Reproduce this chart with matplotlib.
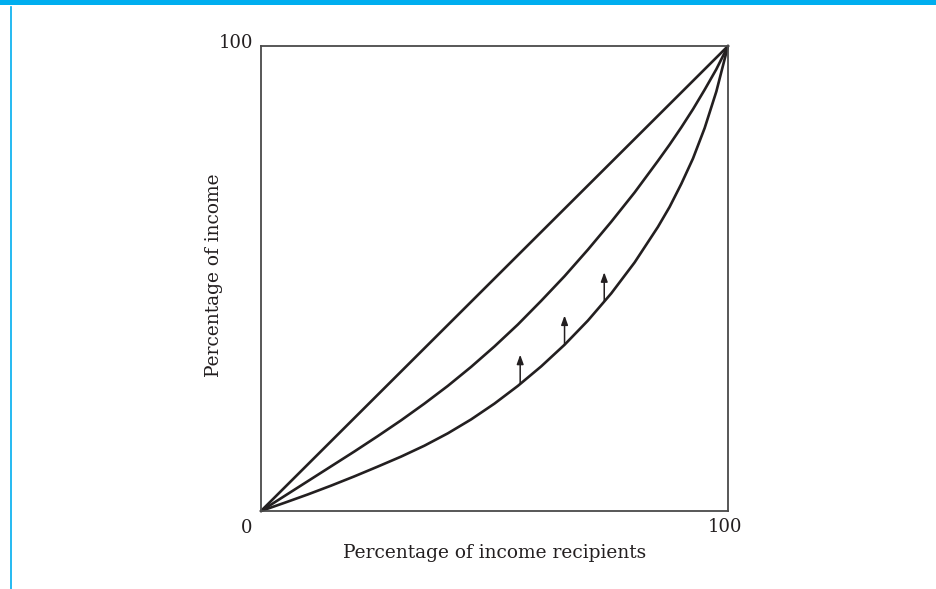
import matplotlib
matplotlib.use("Agg")
import matplotlib.pyplot as plt
import numpy as np
from matplotlib.patches import Rectangle
from matplotlib.lines import Line2D

# ---- data ----
x_pct = [0, 5, 10, 15, 20, 25, 30, 35, 40, 45, 50, 55, 60, 65, 70, 75, 80,
         85, 87.5, 90, 92.5, 95, 97.5, 100]
equality = [0, 5, 10, 15, 20, 25, 30, 35, 40, 45, 50, 55, 60, 65, 70, 75, 80,
            85, 87.5, 90, 92.5, 95, 97.5, 100]
middle_curve = [0, 3.2, 6.4, 9.6, 12.8, 16.1, 19.5, 23.1, 26.9, 31.0, 35.4, 40.1, 45.2, 50.5,
                56.2, 62.2, 68.5, 75.3, 78.8, 82.5, 86.4, 90.6, 95.0, 100]
lower_curve = [0, 1.75, 3.55, 5.45, 7.45, 9.55, 11.7, 14.05, 16.7, 19.7, 23.1, 26.9, 31.1,
               35.75, 40.95, 46.8, 53.45, 61.1, 65.4, 70.35, 75.8, 82.35, 90.2, 100]
arrow_x = [55.5, 65.0, 73.5]
arrow_len = 6.3
x_tick_labels = ["0", "100"]
y_tick_labels = ["100"]
x_label = "Percentage of income recipients"
y_label = "Percentage of income"

ink = "#231f20"
cyan = "#00aeef"
font = "DejaVu Serif"

fig = plt.figure(figsize=(9.36, 5.89), dpi=100)
W, H = 936, 589

# frame decorations (cyan top band and left rule)
fig.patches.append(Rectangle((0, 1 - 5 / H), 1, 5 / H, transform=fig.transFigure,
                             facecolor=cyan, edgecolor="none"))
fig.lines.append(Line2D([10.5 / W, 10.5 / W], [0, 1 - 7 / H], transform=fig.transFigure,
                        color=cyan, lw=1.2))

ax = fig.add_axes([261 / W, (H - 511) / H, 467 / W, 465 / H])
ax.set_xlim(0, 100)
ax.set_ylim(0, 100)

lw = 1.9
for ys in (equality, middle_curve, lower_curve):
    ax.plot(x_pct, ys, color=ink, lw=lw, solid_capstyle="round",
            solid_joinstyle="round", clip_on=False)

for xa in arrow_x:
    yb = np.interp(xa, x_pct, lower_curve)
    ax.annotate("", xy=(xa, yb + arrow_len), xytext=(xa, yb),
                arrowprops=dict(arrowstyle="-|>,head_length=0.55,head_width=0.2",
                                color=ink, lw=1.1, shrinkA=0, shrinkB=0))

for s in ax.spines.values():
    s.set_color("#4a4a4a")
    s.set_linewidth(1.3)
ax.set_xticks([])
ax.set_yticks([])

fs_tick = 13
fs = 13.4
ax.annotate(x_tick_labels[0], xy=(0, 0), xytext=(-14, -17), textcoords="offset pixels",
            ha="center", va="center", fontsize=fs_tick, family=font, color=ink)
ax.annotate(x_tick_labels[1], xy=(100, 0), xytext=(-3, -16), textcoords="offset pixels",
            ha="center", va="center", fontsize=fs_tick, family=font, color=ink)
ax.annotate(y_tick_labels[0], xy=(0, 100), xytext=(-8, 3), textcoords="offset pixels",
            ha="right", va="center", fontsize=fs_tick, family=font, color=ink)

fig.text(495 / W, 1 - 553 / H, x_label, ha="center", va="center",
         fontsize=fs, family=font, color=ink)
fig.text(214 / W, 1 - 275 / H, y_label, ha="center", va="center", rotation=90,
         fontsize=fs, family=font, color=ink)

fig.savefig("out.png", dpi=100)
